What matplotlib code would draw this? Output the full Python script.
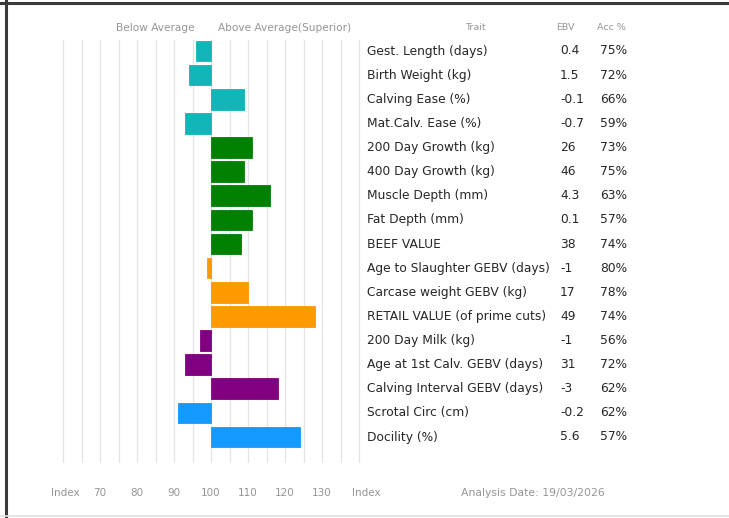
import matplotlib
matplotlib.use("Agg")
import matplotlib.pyplot as plt
from matplotlib.lines import Line2D

# trait table
traits = [
    "Gest. Length (days)", "Birth Weight (kg)", "Calving Ease (%)", "Mat.Calv. Ease (%)",
    "200 Day Growth (kg)", "400 Day Growth (kg)", "Muscle Depth (mm)", "Fat Depth (mm)",
    "BEEF VALUE", "Age to Slaughter GEBV (days)", "Carcase weight GEBV (kg)",
    "RETAIL VALUE (of prime cuts)", "200 Day Milk (kg)", "Age at 1st Calv. GEBV (days)",
    "Calving Interval GEBV (days)", "Scrotal Circ (cm)", "Docility (%)",
]
ebv = ["0.4", "1.5", "-0.1", "-0.7", "26", "46", "4.3", "0.1", "38", "-1", "17", "49",
       "-1", "31", "-3", "-0.2", "5.6"]
acc = ["75%", "72%", "66%", "59%", "73%", "75%", "63%", "57%", "74%", "80%", "78%", "74%",
       "56%", "72%", "62%", "62%", "57%"]
# index values
index = [96, 94, 109, 93, 111, 109, 116, 111, 108, 99, 110, 128, 97, 93, 118, 91, 124]
groups = [0, 0, 0, 0, 1, 1, 1, 1, 1, 2, 2, 2, 3, 3, 3, 4, 4]
group_colors = ["#12b5b8", "#008000", "#ff9900", "#800080", "#1499ff"]
tick_vals = [70, 80, 90, 100, 110, 120, 130]

W, H = 729, 518
fig = plt.figure(figsize=(W / 100, H / 100), dpi=100)
fig.patch.set_facecolor("white")

def fx(px):
    return px / W

def fy(py):
    return 1 - py / H

# bar axes: x 60..140 -> px 63..359, rows centred from y=51 to y=437
row_h = (437 - 51) / 16
ax = fig.add_axes([fx(63), fy(462), fx(359) - fx(63), fy(40) - fy(462)])
ax.set_xlim(60, 140)
ax.set_ylim(16 + (462 - 437) / row_h, -(51 - 40) / row_h)
for g in range(60, 141, 5):
    ax.axvline(g, color="#e4e4e4", lw=0.9, zorder=0, clip_on=False)
for i, v in enumerate(index):
    ax.barh(i, v - 100, left=100, height=0.86, color=group_colors[groups[i]],
            edgecolor=group_colors[groups[i]], lw=0.6, zorder=2)
ax.set_axis_off()

# header
grey = "#959595"
fig.text(fx(155), fy(28), "Below Average", ha="center", va="center", fontsize=7.6, color=grey)
fig.text(fx(285), fy(28), "Above Average(Superior)", ha="center", va="center", fontsize=7.6, color=grey)
fig.text(fx(475), fy(27), "Trait", ha="center", va="center", fontsize=6.8, color=grey)
fig.text(fx(565), fy(27), "EBV", ha="center", va="center", fontsize=6.8, color=grey)
fig.text(fx(611), fy(27), "Acc %", ha="center", va="center", fontsize=6.8, color=grey)

# table rows
txt = "#262626"
for i, t in enumerate(traits):
    y = fy(51 + row_h * i)
    fig.text(fx(367), y, t, ha="left", va="center", fontsize=8.8, color=txt)
    fig.text(fx(560), y, ebv[i], ha="left", va="center", fontsize=8.8, color=txt)
    fig.text(fx(600), y, acc[i], ha="left", va="center", fontsize=8.8, color=txt)

# bottom axis labels
fig.text(fx(65), fy(493), "Index", ha="center", va="center", fontsize=7.5, color=grey)
fig.text(fx(366), fy(493), "Index", ha="center", va="center", fontsize=7.5, color=grey)
for t in tick_vals:
    xp = 63 + (t - 60) * (296 / 80)
    fig.text(fx(xp), fy(493), str(t), ha="center", va="center", fontsize=7.5, color=grey)
fig.text(fx(533), fy(493), "Analysis Date: 19/03/2026", ha="center", va="center",
         fontsize=7.8, color=grey)

# frame edges of the screenshot
fig.add_artist(Line2D([0, 1], [fy(3), fy(3)], transform=fig.transFigure, color="#3a3a3a", lw=2.2))
fig.add_artist(Line2D([fx(6), fx(6)], [0, 1], transform=fig.transFigure, color="#3a3a3a", lw=2.2))
fig.add_artist(Line2D([0, 1], [fy(516), fy(516)], transform=fig.transFigure, color="#e0e0e0", lw=1.2))

fig.savefig("out.png", dpi=100)
